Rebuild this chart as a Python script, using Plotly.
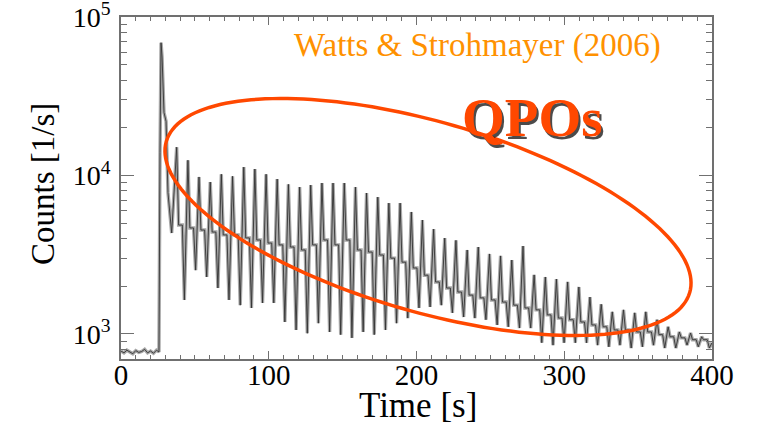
import math
import plotly.graph_objects as go

# ---------------- data ----------------
# quiescent level before the giant flare
pre_t = [0, 2, 4, 6, 8, 10, 12, 14, 16, 18, 20, 22, 24, 25.7]
pre_c = [780, 760, 790, 770, 750, 785, 765, 775, 800, 760, 780, 755, 790, 770]

# initial spike
spike_t = [25.9, 26.4, 27.1, 27.8, 29.1, 30.5, 31.8, 34.3]
spike_c = [6300, 14000, 69000, 56000, 25000, 22000, 7800, 4340]

# pulsating tail: main peak of each 7.56 s rotation
peak_t = [37.7, 45.3, 52.8, 60.4, 67.9, 75.5, 83.1, 90.6, 98.2, 105.7, 113.3, 120.9,
          128.4, 136.0, 143.5, 151.1, 158.7, 166.2, 173.8, 181.3, 188.9, 196.5, 204.0,
          211.6, 219.1, 226.7, 234.3, 241.8, 249.4, 256.9, 264.5, 272.1, 279.6, 287.2,
          294.7, 302.3, 309.9, 317.4, 325.0, 332.5, 340.1, 347.7, 355.2, 362.8, 370.3,
          377.9, 385.5, 393.0]
peak_c = [15100, 12500, 9800, 9100, 10200, 9900, 11300, 11000, 10200, 9500, 8800, 8450,
          8700, 8970, 8970, 8970, 8450, 7760, 7310, 6700, 6700, 5890, 5240, 4590, 4030,
          3900, 3390, 3540, 3200, 3110, 2930, 3590, 2360, 2290, 2220, 2130, 1980, 1710,
          1540, 1380, 1420, 1360, 1380, 1230, 1110, 1030, 1015, 960]
# secondary (interpulse) level of each rotation
sec_c = [4870, 4670, 4530, 4400, 4220, 4220, 4040, 3920, 3750, 3650, 3540, 3390,
         3650, 3920, 3650, 3920, 3390, 3290, 3150, 3010, 2840, 2610, 2350, 2130, 1950,
         1840, 1760, 1690, 1640, 1590, 1520, 1460, 1420, 1320, 1260, 1230, 1190, 1140,
         1110, 1060, 1060, 1030, 1030, 990, 960, 945, 920, 920]
# minimum of each rotation
trough_c = [1640, 2530, 2290, 1950, 1640, 1520, 1460, 1570, 1570, 1190, 1060, 1010,
            1170, 1030, 990, 945, 1030, 990, 1060, 1170, 1260, 1460, 1480, 1520, 1360,
            1280, 1260, 1230, 1140, 1110, 1090, 1090, 880, 850, 880, 880, 880, 850,
            830, 850, 815, 830, 850, 815, 815, 850, 830, 815]
end_t = [400]
end_c = [880]

# pulse-profile phases (s after the main peak)
SEC_START = 1.3
SEC_END = 3.8
TROUGH_DELAY = 5.2

x_ticks = [0, 100, 200, 300, 400]
y_ticks = [1e3, 1e4, 1e5]
y_ticktext = ["10<sup>3</sup>", "10<sup>4</sup>", "10<sup>5</sup>"]

# ---------------- build the light curve ----------------
t = list(pre_t) + list(spike_t)
c = list(pre_c) + list(spike_c)
for k in range(len(peak_t)):
    t += [peak_t[k], peak_t[k] + SEC_START, peak_t[k] + SEC_END,
          peak_t[k] + TROUGH_DELAY]
    c += [peak_c[k], sec_c[k], sec_c[k], trough_c[k]]
t += end_t
c += end_c

W, H = 760, 424
ML, MR, MT, MB = 121, 48, 17, 65
PW, PH = W - ML - MR, H - MT - MB

fig = go.Figure()
fig.add_trace(go.Scatter(x=t, y=c, mode="lines",
                         line=dict(color="#a8a8a8", width=3.4), hoverinfo="skip"))
fig.add_trace(go.Scatter(x=t, y=c, mode="lines",
                         line=dict(color="#333333", width=0.9), hoverinfo="skip"))

# ellipse annotation (pixel geometry converted to paper coordinates)
cx, cy, a, b, phi = 428.0, 217.0, 272.4, 95.0, math.radians(16.1)
pts = []
for i in range(181):
    th = 2 * math.pi * i / 180
    px = cx + a * math.cos(th) * math.cos(phi) - b * math.sin(th) * math.sin(phi)
    py = cy + a * math.cos(th) * math.sin(phi) + b * math.sin(th) * math.cos(phi)
    pts.append(((px - ML) / PW, (MT + PH - py) / PH))
path = "M " + " L ".join(f"{x:.5f},{y:.5f}" for x, y in pts) + " Z"
fig.add_shape(type="path", path=path, xref="paper", yref="paper",
              line=dict(color="rgb(255,72,0)", width=3.5))

serif = "Liberation Serif, Times New Roman, serif"

def px2paper(px, py):
    return (px - ML) / PW, (MT + PH - py) / PH

ax, ay = px2paper(477, 46)
fig.add_annotation(x=ax, y=ay, xref="paper", yref="paper", showarrow=False,
                   text="Watts &amp; Strohmayer (2006)",
                   font=dict(family=serif, size=33, color="rgb(255,145,0)"),
                   xanchor="center", yanchor="middle")
# shadow + text "QPOs"
qx, qy = px2paper(534.5, 120.5)
qx2, qy2 = px2paper(532, 118)
fig.add_annotation(x=qx, y=qy, xref="paper", yref="paper", showarrow=False,
                   text="<b>QPOs</b>",
                   font=dict(family=serif, size=55, color="rgba(30,30,30,0.8)"),
                   xanchor="center", yanchor="middle")
fig.add_annotation(x=qx2, y=qy2, xref="paper", yref="paper", showarrow=False,
                   text="<b>QPOs</b>",
                   font=dict(family=serif, size=55, color="rgb(255,72,0)"),
                   xanchor="center", yanchor="middle")

# axis titles
tx, ty = px2paper(43, 184)
fig.add_annotation(x=tx, y=ty, xref="paper", yref="paper", showarrow=False,
                   text="Counts [1/s]", textangle=-90,
                   font=dict(family=serif, size=33, color="black"),
                   xanchor="center", yanchor="middle")
xx, xy = px2paper(418, 406)
fig.add_annotation(x=xx, y=xy, xref="paper", yref="paper", showarrow=False,
                   text="Time [s]",
                   font=dict(family=serif, size=35, color="black"),
                   xanchor="center", yanchor="middle")

axcol = "#707070"
fig.update_xaxes(range=[0, 400], tickvals=x_ticks, ticks="inside", ticklen=8,
                 tickwidth=1.3, tickcolor=axcol, showline=True, linecolor=axcol,
                 linewidth=1.6, mirror="ticks", showgrid=False, zeroline=False,
                 automargin=False,
                 ticklabelstandoff=-11, ticklabeloverflow="allow",
                 tickfont=dict(family=serif, size=29, color="black"),
                 minor=dict(ticks="inside", ticklen=4, dtick=10, tickcolor=axcol,
                            tickwidth=1, showgrid=False))
minor_y = [m * 10 ** e for e in (2, 3, 4) for m in range(2, 10)]
fig.update_yaxes(type="log", range=[math.log10(695), 5.001], tickvals=y_ticks,
                 ticktext=y_ticktext, ticks="inside", ticklen=13, tickwidth=1.3,
                 tickcolor=axcol, showline=True, linecolor=axcol, linewidth=1.6,
                 mirror="ticks", showgrid=False, zeroline=False,
                 automargin=False,
                 ticklabelstandoff=3, ticklabeloverflow="allow",
                 tickfont=dict(family=serif, size=28, color="black"),
                 minor=dict(ticks="inside", ticklen=6, tickvals=minor_y,
                            tickcolor=axcol, tickwidth=1, showgrid=False))

fig.update_layout(width=W, height=H, autosize=False,
                  margin=dict(l=ML, r=MR, t=MT, b=MB, pad=0, autoexpand=False),
                  paper_bgcolor="white", plot_bgcolor="white",
                  showlegend=False)

fig.write_html("out.html")
